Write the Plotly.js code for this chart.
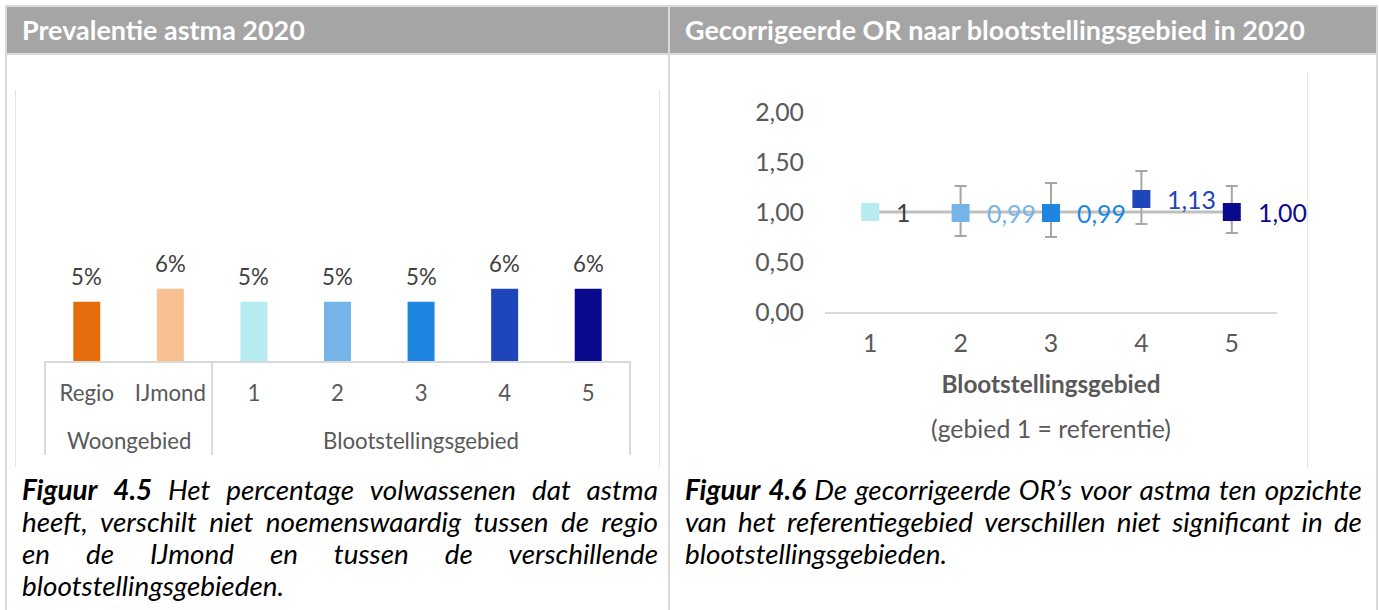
<!DOCTYPE html>
<html><head><meta charset="utf-8">
<script src="https://cdn.plot.ly/plotly-3.0.1.min.js"></script>
<style>
html,body{margin:0;padding:0;background:#fff;}
#page{position:relative;width:1379px;height:610px;overflow:hidden;font-family:Lato,sans-serif;background:#fff;}
.ln{position:absolute;background:#d9d9d9;}
.fr{position:absolute;background:#e4e4e4;}
.hdr{position:absolute;top:7px;height:46px;background:#a5a5a5;color:#fff;font-weight:bold;line-height:46px;white-space:nowrap;box-sizing:border-box;padding-left:15px;}
.cap{position:absolute;color:#000;font-style:italic;}
.capline{display:flex;justify-content:space-between;height:32px;line-height:32px;white-space:nowrap;}
.capline.last{justify-content:flex-start;}
.plot{position:absolute;}
</style></head><body>
<div id="page">
  <div class="hdr" id="hdrL" style="left:7px;width:661px;">Prevalentie astma 2020</div>
  <div class="hdr" id="hdrR" style="left:670px;width:706px;">Gecorrigeerde OR naar blootstellingsgebied in 2020</div>
  <div class="ln" style="left:5px;top:5px;width:1373px;height:2px;"></div>
  <div class="ln" style="left:5px;top:53px;width:1373px;height:2px;"></div>
  <div class="ln" style="left:5px;top:5px;width:2px;height:605px;"></div>
  <div class="ln" style="left:668px;top:5px;width:2px;height:605px;"></div>
  <div class="ln" style="left:1376px;top:5px;width:2px;height:605px;"></div>
  <div class="fr" style="left:15px;top:90px;width:1px;height:377px;"></div>
  <div class="fr" style="left:659px;top:90px;width:1px;height:377px;"></div>
  <div class="fr" style="left:1307px;top:73px;width:1px;height:395px;"></div>
  <div class="plot" id="left" style="left:0px;top:60px;width:668px;height:400px;"></div>
  <div class="plot" id="right" style="left:670px;top:60px;width:705px;height:400px;"></div>
  <div class="cap" id="capL" style="left:22px;top:474px;width:636px;"></div>
  <div class="cap" id="capR" style="left:685px;top:474px;width:677px;"></div>
</div>
<script>
// ---- data ----
const prevCategories = ["Regio", "IJmond", "1", "2", "3", "4", "5"];
const prevGroups = ["Woongebied", "Woongebied", "Blootstellingsgebied", "Blootstellingsgebied", "Blootstellingsgebied", "Blootstellingsgebied", "Blootstellingsgebied"];
const prevValues = [5.0, 6.1, 5.0, 5.0, 5.0, 6.1, 6.1];
const prevLabels = ["5%", "6%", "5%", "5%", "5%", "6%", "6%"];

const orCategories = ["1", "2", "3", "4", "5"];
const orValues = [1.00, 0.99, 0.99, 1.13, 1.00];
const orUpper = [1.00, 1.26, 1.29, 1.41, 1.26];
const orLower = [1.00, 0.76, 0.75, 0.88, 0.79];
const orLabels = ["1", "0,99", "0,99", "1,13", "1,00"];
const refLine = [1, 1, 1, 1, 1];
const orYTicks = [0, 0.5, 1, 1.5, 2];

const orXTitle = "Blootstellingsgebied";
const orXSubtitle = "(gebied 1 = referentie)";

const capLeftBold = "Figuur 4.5";
const capLeftLines = ["Het percentage volwassenen dat astma", "heeft, verschilt niet noemenswaardig tussen de regio", "en de IJmond en tussen de verschillende", "blootstellingsgebieden."];
const capRightBold = "Figuur 4.6";
const capRightLines = ["De gecorrigeerde OR\u2019s voor astma ten opzichte", "van het referentiegebied verschillen niet significant in de", "blootstellingsgebieden."];

// ---- styles ----
const prevColors = ["#e46c0a", "#f9c091", "#b6ecf0", "#74b4e8", "#1e85e0", "#1f45bb", "#0a0a8e"];
const orColors = ["#b6ecf0", "#74b4e8", "#1e85e0", "#1f45bb", "#0a0a8e"];
const orLabelColors = ["#404040", "#74b4e8", "#1e85e0", "#1f45bb", "#0a0a8e"];

const ctx = document.createElement('canvas').getContext('2d');
function fit(text, target, weight, style) {
  ctx.font = (style || 'normal') + ' ' + (weight || 'normal') + ' 100px Lato';
  return +(100 * target / ctx.measureText(text).width).toFixed(2);
}
const fsHdr = fit("Prevalentie astma 2020", 283, 'bold');
const fsAxL = fit("Blootstellingsgebied", 196);
const fsR = fit("(gebied 1 = referentie)", 240);
const fsRB = fit("Blootstellingsgebied", 219, 'bold');
const fsCap = fit("blootstellingsgebieden.", 262, 'normal', 'italic');

document.getElementById('hdrL').style.fontSize = fsHdr + 'px';
document.getElementById('hdrR').style.fontSize = fsHdr + 'px';

function buildCaption(el, bold, lines) {
  el.style.fontSize = fsCap + 'px';
  lines.forEach((line, i) => {
    const d = document.createElement('div');
    d.className = 'capline' + (i === lines.length - 1 ? ' last' : '');
    const words = (i === 0 ? bold.split(' ').map(w => '<b>' + w + '</b>') : []).concat(line.split(' '));
    d.innerHTML = words.map(w => '<span>' + w + '</span>').join('');
    el.appendChild(d);
  });
}
buildCaption(document.getElementById('capL'), capLeftBold, capLeftLines);
buildCaption(document.getElementById('capR'), capRightBold, capRightLines);

// ---- left chart ----
const nL = prevCategories.length;
const plotHL = 400 - 40 - 99;
const groupSpans = [];
prevGroups.forEach((g, i) => {
  if (!groupSpans.length || groupSpans[groupSpans.length - 1].name !== g) groupSpans.push({name: g, start: i, end: i});
  else groupSpans[groupSpans.length - 1].end = i;
});
const leftAnn = prevCategories.map((c, i) => ({
  x: i, y: prevValues[i], xref: 'x', yref: 'y', text: prevLabels[i], showarrow: false,
  yanchor: 'bottom', yshift: 10, font: {size: fsAxL, color: '#404040'}
})).concat(groupSpans.map(g => ({
  x: (g.start + g.end) / 2, y: 0, xref: 'x', yref: 'paper', text: g.name, showarrow: false,
  yanchor: 'middle', yshift: -79, font: {size: fsAxL, color: '#595959'}
})));
const bounds = [groupSpans[0].start - 0.5].concat(groupSpans.map(g => g.end + 0.5));
const leftShapes = bounds.map(b => ({
  type: 'line', xref: 'paper', yref: 'paper', x0: (b + 0.5) / nL, x1: (b + 0.5) / nL,
  y0: 0, y1: -(455 - 361) / plotHL, line: {color: '#d9d9d9', width: 2}
}));

Plotly.newPlot('left', [{
  type: 'bar', x: prevCategories, y: prevValues, width: 0.323,
  marker: {color: prevColors}, hoverinfo: 'skip'
}], {
  width: 668, height: 400, margin: {l: 45, r: 38, t: 40, b: 99},
  paper_bgcolor: 'rgba(0,0,0,0)', plot_bgcolor: 'rgba(0,0,0,0)',
  font: {family: 'Lato, sans-serif', color: '#595959', size: fsAxL},
  showlegend: false,
  xaxis: {type: 'category', range: [-0.5, nL - 0.5], showline: true, linecolor: '#d9d9d9', linewidth: 2,
    ticks: '', showgrid: false, zeroline: false, tickfont: {size: fsAxL, color: '#595959'}, ticklabelstandoff: 11},
  yaxis: {visible: false, range: [0, 22]},
  annotations: leftAnn, shapes: leftShapes
}, {displayModeBar: false, staticPlot: true});

// ---- right chart ----
const rightAnn = orCategories.map((c, i) => ({
  x: i, y: orValues[i], xref: 'x', yref: 'y', text: orLabels[i], showarrow: false,
  xanchor: 'left', yanchor: 'middle', xshift: 24, font: {size: fsR, color: orLabelColors[i]}
})).concat([{
  x: 0.5, y: 0, xref: 'paper', yref: 'paper', text: orXSubtitle, showarrow: false,
  yanchor: 'middle', yshift: -116, font: {size: fsR, color: '#595959'}
}]);

Plotly.newPlot('right', [{
  type: 'scatter', mode: 'lines', x: orCategories, y: refLine,
  line: {color: '#bfbfbf', width: 3}, hoverinfo: 'skip'
}, {
  type: 'scatter', mode: 'markers', x: orCategories, y: orValues,
  marker: {symbol: 'square', size: 18, color: orColors},
  error_y: {type: 'data', symmetric: false,
    array: orUpper.map((u, i) => +(u - orValues[i]).toFixed(3)),
    arrayminus: orLower.map((l, i) => +(orValues[i] - l).toFixed(3)),
    color: '#a6a6a6', thickness: 2, width: 6},
  hoverinfo: 'skip'
}], {
  width: 705, height: 400, margin: {l: 155, r: 98, t: 32, b: 148},
  paper_bgcolor: 'rgba(0,0,0,0)', plot_bgcolor: 'rgba(0,0,0,0)',
  font: {family: 'Lato, sans-serif', color: '#595959', size: fsR},
  separators: ',.', showlegend: false,
  xaxis: {type: 'category', range: [-0.5, orCategories.length - 0.5], showline: true, linecolor: '#d9d9d9', linewidth: 2,
    ticks: '', showgrid: false, zeroline: false, tickfont: {size: fsR, color: '#595959'}, ticklabelstandoff: 8,
    title: {text: orXTitle, font: {size: fsRB, color: '#595959', weight: 'bold'}, standoff: 20}},
  yaxis: {range: [0, 2.2], tickvals: orYTicks, tickformat: '.2f', showgrid: false, zeroline: false, showline: false,
    ticks: '', tickfont: {size: fsR, color: '#595959'}, ticklabelstandoff: 20},
  annotations: rightAnn
}, {displayModeBar: false, staticPlot: true});
</script>
</body></html>
